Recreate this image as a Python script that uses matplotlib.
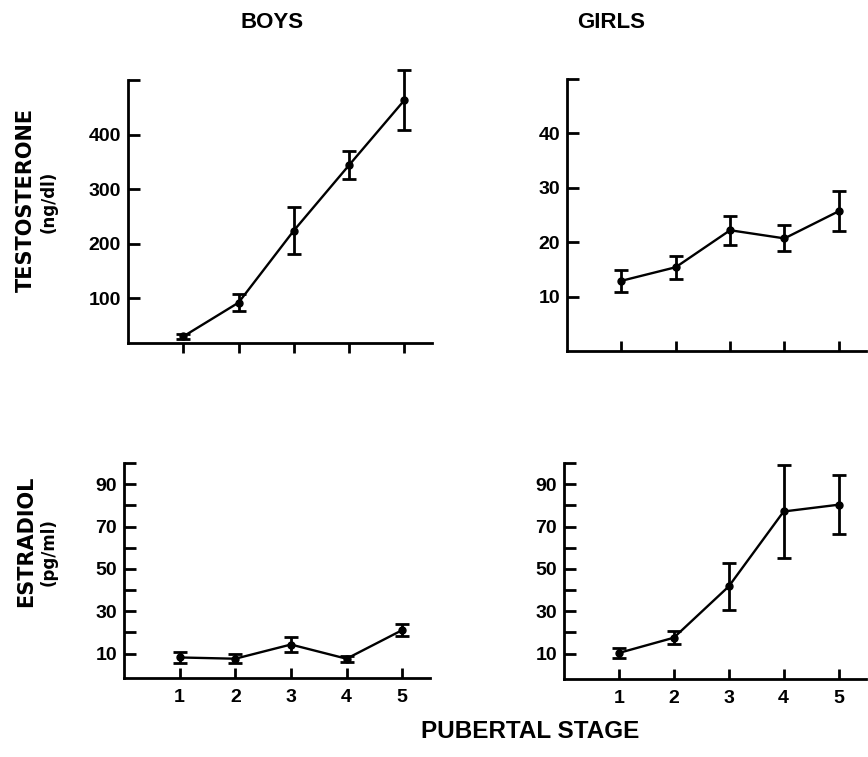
import matplotlib
matplotlib.use('Agg')
import matplotlib.pyplot as plt

# pubertal stage on the x axis
stages = [1, 2, 3, 4, 5]

# testosterone (ng/dl)
boys_testo = [30, 92, 224, 344, 463]
boys_testo_err = [5, 15, 43, 25, 55]
girls_testo = [12.9, 15.4, 22.2, 20.7, 25.7]
girls_testo_err = [2.0, 2.1, 2.7, 2.4, 3.7]

# estradiol (pg/ml)
boys_estr = [8.2, 7.6, 14.3, 7.6, 21.1]
boys_estr_err = [2.5, 2.0, 3.5, 1.5, 3.0]
girls_estr = [10.3, 17.5, 41.7, 77.1, 80.3]
girls_estr_err = [2.5, 3.0, 11.0, 22.0, 14.0]

W, H = 868, 757
TICKFONT = 'Liberation Sans'
LABELFONT = 'DejaVu Sans'


def px_axes(fig, left, right, top, bottom):
    return fig.add_axes([left / W, 1 - bottom / H, (right - left) / W, (bottom - top) / H])


def style_axes(ax, ylim, yticks, ylabels, xlabels, xdir):
    ax.set_xlim(0, 5.5)
    ax.set_ylim(*ylim)
    for s in ('top', 'right'):
        ax.spines[s].set_visible(False)
    for s in ('left', 'bottom'):
        ax.spines[s].set_linewidth(2)
    ax.set_yticks(yticks)
    ax.set_yticklabels(ylabels, fontfamily=TICKFONT, fontweight='bold', fontsize=14)
    ax.set_xticks(stages)
    if xlabels:
        ax.set_xticklabels([str(s) for s in stages], fontfamily=TICKFONT,
                           fontweight='bold', fontsize=14)
    else:
        ax.set_xticklabels([])
    ax.tick_params(axis='y', direction='in', length=8.5, width=2, pad=5)
    ax.tick_params(axis='x', direction=xdir, length=7, width=2, pad=8)


def draw(ax, y, err):
    ax.errorbar(stages, y, yerr=err, color='black', lw=1.7, marker='o', ms=5,
                elinewidth=2, capsize=4.8, capthick=2, clip_on=False)


fig = plt.figure(figsize=(W / 100, H / 100), dpi=100)

ax_tl = px_axes(fig, 128, 432, 80, 343)
draw(ax_tl, boys_testo, boys_testo_err)
style_axes(ax_tl, (18, 500), [100, 200, 300, 400, 500],
           ['100', '200', '300', '400', ''], False, 'out')

ax_tr = px_axes(fig, 567, 866, 79, 351)
draw(ax_tr, girls_testo, girls_testo_err)
style_axes(ax_tr, (0, 50), [10, 20, 30, 40, 50],
           ['10', '20', '30', '40', ''], False, 'in')

estr_ticks = list(range(10, 101, 10))
estr_labels = ['10', '', '30', '', '50', '', '70', '', '90', '']

ax_bl = px_axes(fig, 124, 430, 463, 678)
draw(ax_bl, boys_estr, boys_estr_err)
style_axes(ax_bl, (-1.5, 100), estr_ticks, estr_labels, True, 'in')

ax_br = px_axes(fig, 564, 866, 463, 679)
draw(ax_br, girls_estr, girls_estr_err)
style_axes(ax_br, (-2, 100), estr_ticks, estr_labels, True, 'in')

# column headers, row labels and shared x label
fig.text(272 / W, 1 - 22 / H, 'BOYS', ha='center', va='center',
         fontfamily=TICKFONT, fontweight='bold', fontsize=16)
fig.text(611 / W, 1 - 22 / H, 'GIRLS', ha='center', va='center',
         fontfamily=TICKFONT, fontweight='bold', fontsize=16)

fig.text(26 / W, 1 - 200 / H, 'TESTOSTERONE', rotation=90, ha='center', va='center',
         fontfamily=LABELFONT, fontweight='bold', fontsize=15)
fig.text(49 / W, 1 - 202 / H, '(ng/dl)', rotation=90, ha='center', va='center',
         fontfamily=LABELFONT, fontweight='bold', fontsize=12)
fig.text(26 / W, 1 - 541 / H, 'ESTRADIOL', rotation=90, ha='center', va='center',
         fontfamily=LABELFONT, fontweight='bold', fontsize=15)
fig.text(49 / W, 1 - 552 / H, '(pg/ml)', rotation=90, ha='center', va='center',
         fontfamily=LABELFONT, fontweight='bold', fontsize=12)

fig.text(530 / W, 1 - 732 / H, 'PUBERTAL STAGE', ha='center', va='center',
         fontfamily=TICKFONT, fontweight='bold', fontsize=17.5)

fig.savefig('out.png', dpi=100)
